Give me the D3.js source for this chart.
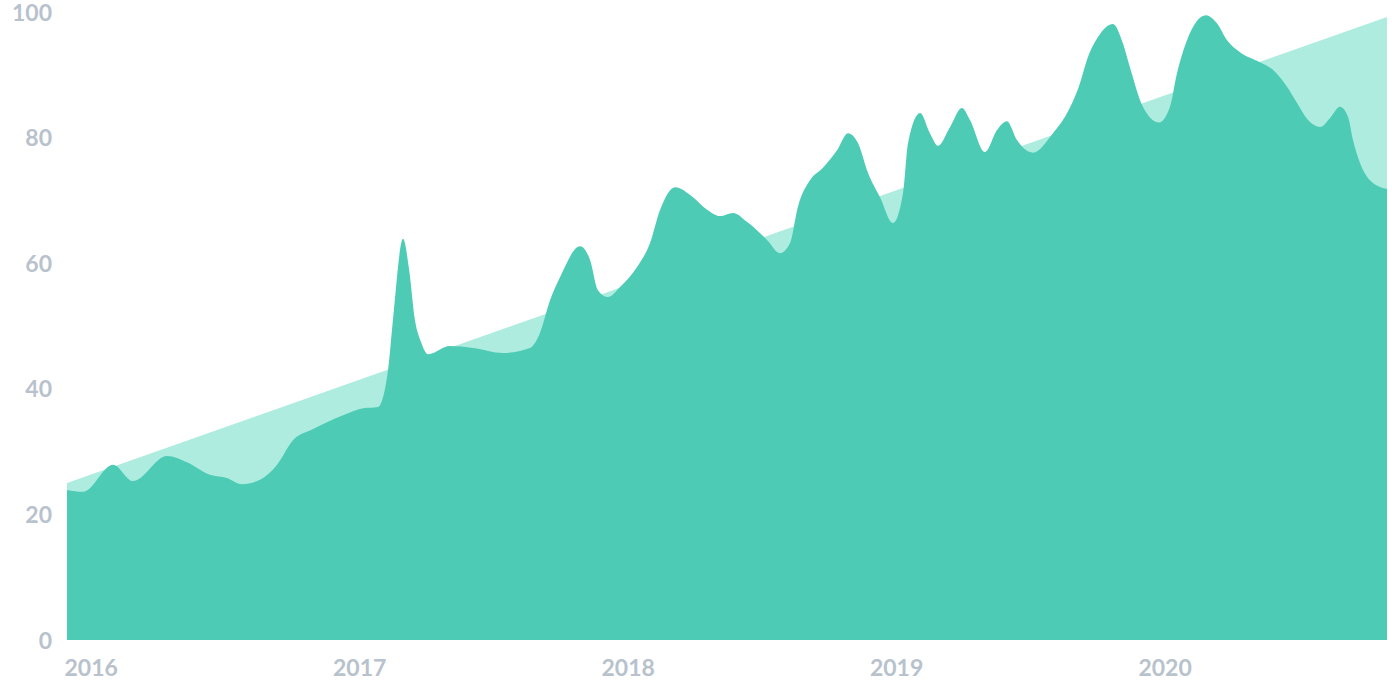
<!DOCTYPE html>
<html>
<head>
<meta charset="utf-8">
<script src="https://cdn.jsdelivr.net/npm/d3@7"></script>
<style>
  html, body { margin: 0; padding: 0; background: #ffffff; }
  svg { display: block; }
  text { font-family: Lato, "Open Sans", sans-serif; font-weight: 700; fill: #b8c2cd; }
</style>
</head>
<body>
<script>
// Month offsets from Jan 2016 (0) to Dec 2020 (59)
const months = [0,0.72,2.06,2.95,4.47,5.36,6.39,7.15,7.82,8.63,9.39,10.10,11.00,12.34,13.23,13.90,14.35,14.57,15.02,15.29,15.55,15.82,16.14,17.12,18.15,19.49,20.69,21.14,21.59,22.04,22.93,23.38,23.73,24.18,24.72,25.48,26.06,26.51,27.18,27.98,28.61,29.19,29.77,30.39,30.97,31.29,31.87,32.32,32.67,33.21,33.79,34.42,34.91,35.36,35.80,36.34,36.92,37.37,37.59,38.13,38.57,38.93,39.47,40.00,40.36,41.03,41.57,42.01,42.46,43.18,44.07,44.70,45.28,45.59,46.08,46.75,47.20,47.51,48.09,48.81,49.30,49.61,50.06,50.91,51.40,51.85,52.43,53.32,53.90,54.53,54.98,55.47,56.01,56.45,56.90,57.26,57.48,57.79,58.24,59.00];
const values = [23.9,23.6,27.9,25.3,29.3,28.3,26.3,25.8,24.8,25.5,27.9,31.8,33.6,35.8,36.9,37.1,43.0,51.0,63.9,59.0,51.0,47.5,45.5,46.8,46.5,45.7,46.5,48.9,54.1,57.8,62.7,60.5,55.7,54.6,56.2,59.4,63.2,68.5,72.1,70.5,68.5,67.5,68.0,66.6,64.8,63.7,61.6,63.2,69.0,73.2,75.2,78.0,80.7,79.1,74.4,70.5,66.4,71.2,79.1,83.9,80.7,78.7,81.7,84.7,82.8,77.7,81.2,82.6,79.6,77.6,80.7,83.9,88.7,92.4,96.0,98.1,95.0,91.2,84.9,82.4,84.9,90.2,95.5,99.5,98.2,95.5,93.6,92.0,90.8,88.1,85.5,82.8,81.7,83.1,84.9,83.3,79.6,76.0,73.2,71.8];
// Linear trend (start, end)
const trendMonths = [0, 59];
const trendValues = [25.0, 99.2];
// Axis ticks
const yTicks = [0, 20, 40, 60, 80, 100];
const xTickMonths = [0, 12, 24, 36, 48];
const xTickLabels = ["2016", "2017", "2018", "2019", "2020"];

const W = 1392, H = 696;
const svg = d3.select("body").append("svg").attr("width", W).attr("height", H);

const x = d3.scaleLinear().domain([0, 59]).range([67, 1387]);
const y = d3.scaleLinear().domain([0, 100]).range([640, 12]);

const trend = trendMonths.map((m, i) => ({m, v: trendValues[i]}));
const data = months.map((m, i) => ({m, v: values[i]}));

svg.append("path")
  .datum(trend)
  .attr("fill", "#aeece0")
  .attr("d", d3.area().x(d => x(d.m)).y0(y(0)).y1(d => y(d.v)));

svg.append("path")
  .datum(data)
  .attr("fill", "#4ecbb4")
  .attr("d", d3.area().curve(d3.curveMonotoneX).x(d => x(d.m)).y0(y(0)).y1(d => y(d.v)));

// Y axis labels
const yAxis = d3.axisLeft(y).tickValues(yTicks).tickSize(0).tickPadding(0);
const gy = svg.append("g").attr("transform", "translate(52,0)").call(yAxis);
gy.select(".domain").remove();
gy.selectAll("text").attr("font-size", 23).attr("font-family", null).attr("fill", null).attr("dy", "0.35em");

// X axis labels
const xAxis = d3.axisBottom(x).tickValues(xTickMonths).tickFormat((d, i) => xTickLabels[i]).tickSize(0).tickPadding(0);
const gx = svg.append("g").attr("transform", "translate(-3,676)").call(xAxis);
gx.select(".domain").remove();
gx.selectAll("text").attr("font-size", 23).attr("font-family", null).attr("fill", null)
  .attr("text-anchor", "start").attr("dy", 0);
</script>
</body>
</html>
